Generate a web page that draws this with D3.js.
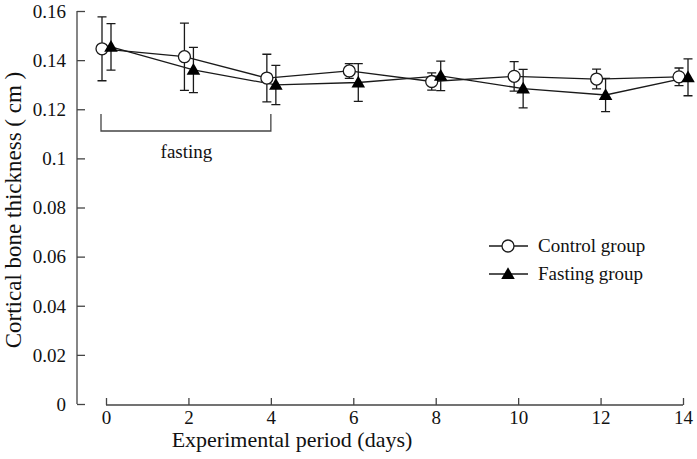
<!DOCTYPE html>
<html><head><meta charset="utf-8">
<script src="https://cdn.jsdelivr.net/npm/d3@7"></script>
<style>body{margin:0;background:#fff}svg{display:block}svg text{font-family:"Liberation Serif","Times New Roman",Times,"DejaVu Serif",serif !important;fill:#111}</style>
</head><body>
<svg id="c" width="697" height="459"></svg>
<script>
const days = [0, 2, 4, 6, 8, 10, 12, 14];
const controlMean = [0.1446, 0.1414, 0.1327, 0.1356, 0.1313, 0.1334, 0.1323, 0.1332];
const controlErr  = [0.0130, 0.0137, 0.0097, 0.0030, 0.0035, 0.0060, 0.0040, 0.0036];
const fastingMean = [0.1454, 0.1360, 0.1299, 0.1309, 0.1336, 0.1284, 0.1258, 0.1330];
const fastingErr  = [0.0095, 0.0092, 0.0080, 0.0077, 0.0060, 0.0078, 0.0068, 0.0075];
const yTicks = [0, 0.02, 0.04, 0.06, 0.08, 0.1, 0.12, 0.14, 0.16];
const xTicks = [0, 2, 4, 6, 8, 10, 12, 14];
const seriesNames = ["Control group", "Fasting group"];

const svg = d3.select("#c");
const x = d3.scaleLinear().domain([0, 14]).range([106, 683]);
const y = d3.scaleLinear().domain([0, 0.16]).range([404, 11]);
const ink = "#1a1a1a";

// Y axis
const yAxis = d3.axisRight(y).tickValues(yTicks).tickSize(8).tickFormat(d => d3.format("")(d));
const gy = svg.append("g").attr("transform", "translate(77,0)").call(yAxis).attr("font-family", null);
gy.select(".domain").attr("d", `M0,${y(0.16)}V${y(0)}`).attr("stroke", "#444").attr("stroke-width", 1.3);
gy.selectAll(".tick line").attr("stroke", "#444").attr("stroke-width", 1.3);
gy.selectAll(".tick text").attr("x", -11).attr("text-anchor", "end").attr("dy", "0.33em")
  .style("font-size", "19px").attr("fill", ink);

// X axis
const xAxis = d3.axisTop(x).tickValues(xTicks).tickSize(7);
const gx = svg.append("g").attr("transform", "translate(0,405)").call(xAxis).attr("font-family", null);
gx.select(".domain").attr("d", `M${x(0)},0H${x(14)}`).attr("stroke", "#444").attr("stroke-width", 1.3);
gx.selectAll(".tick line").attr("stroke", "#444").attr("stroke-width", 1.3);
gx.selectAll(".tick text").attr("y", 13).attr("dy", "0.33em")
  .style("font-size", "19px").attr("fill", ink);

// Axis titles
svg.append("text").attr("x", 292).attr("y", 447).attr("text-anchor", "middle")
  .style("font-size", "22px").text("Experimental period (days)");
svg.append("text").attr("transform", "translate(21,210) rotate(-90)").attr("text-anchor", "middle")
  .style("font-size", "23px").text("Cortical bone thickness ( cm )");

// Fasting bracket
const br = d3.path();
br.moveTo(x(0) - 5, 114); br.lineTo(x(0) - 5, 131); br.lineTo(x(4), 131); br.lineTo(x(4), 114);
svg.append("path").attr("d", br.toString()).attr("fill", "none").attr("stroke", "#444").attr("stroke-width", 1.3);
svg.append("text").attr("x", (x(0) + x(4)) / 2 - 2).attr("y", 158).attr("text-anchor", "middle")
  .style("font-size", "19px").text("fasting");

const series = [
  {name: seriesNames[0], mean: controlMean, err: controlErr, dx: -4, sym: "circle"},
  {name: seriesNames[1], mean: fastingMean, err: fastingErr, dx: 5, sym: "triangle"}
];
const line = d3.line();

series.forEach(s => {
  const pts = days.map((d, i) => [x(d) + s.dx, y(s.mean[i])]);
  svg.append("path").attr("d", line(pts)).attr("fill", "none").attr("stroke", ink).attr("stroke-width", 1.3);
});
series.forEach(s => {
  const g = svg.append("g");
  days.forEach((d, i) => {
    const cx = x(d) + s.dx;
    const top = y(s.mean[i] + s.err[i]), bot = y(s.mean[i] - s.err[i]);
    const p = d3.path();
    p.moveTo(cx, top); p.lineTo(cx, bot);
    p.moveTo(cx - 4.5, top); p.lineTo(cx + 4.5, top);
    p.moveTo(cx - 4.5, bot); p.lineTo(cx + 4.5, bot);
    g.append("path").attr("d", p.toString()).attr("stroke", ink).attr("stroke-width", 1.3).attr("fill", "none");
  });
});
function drawSym(g, sym, cx, cy) {
  if (sym === "circle") {
    g.append("circle").attr("cx", cx).attr("cy", cy).attr("r", 6).attr("fill", "#fff").attr("stroke", ink).attr("stroke-width", 1.3);
  } else {
    g.append("path").attr("d", d3.symbol(d3.symbolTriangle, 80)()).attr("transform", `translate(${cx},${cy + 1})`).attr("fill", "#000");
  }
}
series.forEach(s => {
  const g = svg.append("g");
  days.forEach((d, i) => drawSym(g, s.sym, x(d) + s.dx, y(s.mean[i])));
});

// Legend
series.forEach((s, i) => {
  const ly = 246 + i * 28;
  const g = svg.append("g");
  g.append("line").attr("x1", 489).attr("x2", 528).attr("y1", ly).attr("y2", ly).attr("stroke", ink).attr("stroke-width", 1.3);
  drawSym(g, s.sym, 508, ly);
  g.append("text").attr("x", 538).attr("y", ly).attr("dy", "0.33em").style("font-size", "19px").text(s.name);
});
</script>
</body></html>
